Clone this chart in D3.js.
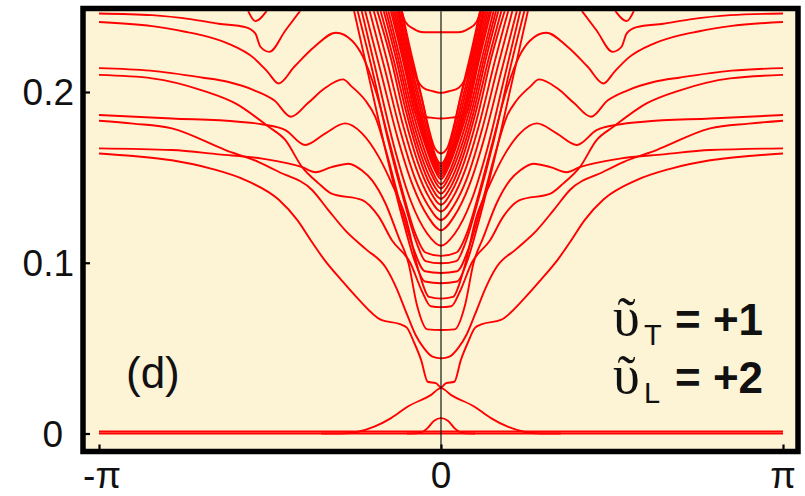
<!DOCTYPE html>
<html>
<meta charset="utf-8">
<style>
body { margin: 0; background: #fff; }
.band { fill: none; stroke: #ff0000; stroke-width: 1.9; stroke-linejoin: round; }
.tick-label { font-family: "Liberation Sans", Arial, sans-serif; font-size: 37px; fill: #111; }
.ticks line { stroke: #000; stroke-width: 2.2; }
</style>
<body>
<svg width="805" height="496"></svg>
<script src="https://cdn.jsdelivr.net/npm/d3@7/dist/d3.min.js"></script>
<script>

// k in units of pi, energy in model units; only k >= 0 is listed, the plot is mirrored
var xTicks = [-1, 0, 1];
var xTickLabels = ["-\u03c0", "0", "\u03c0"];
var yTicks = [0, 0.1, 0.2];
var yTickLabels = ["0", "0.1", "0.2"];

var zeroLines = [
  [[0, 0], [1, 0]],
  [[0, 0.0012], [1, 0.0012]]
];

var bumpCurves = [
  [[0, 0.009], [0.02, 0.0075], [0.04, 0.003], [0.065, 0.0003], [0.1, 0]],
  [[0, 0.0266], [0.03, 0.0225], [0.098, 0.0157], [0.146, 0.009], [0.195, 0.004], [0.243, 0.001], [0.29, 0], [0.35, 0]]
];

// dense continuum around k = 0
var bundleCurves = [
  [[0, 0.164], [0.018, 0.167], [0.035, 0.178], [0.06, 0.2], [0.09, 0.225], [0.117, 0.25]],
  [[0, 0.158], [0.015, 0.162], [0.03, 0.172], [0.055, 0.195], [0.088, 0.22], [0.12, 0.25]],
  [[0, 0.1565], [0.016, 0.161], [0.033, 0.171], [0.06, 0.194], [0.093, 0.22], [0.125, 0.25]],
  [[0, 0.155], [0.017, 0.16], [0.036, 0.17], [0.064, 0.193], [0.097, 0.22], [0.13, 0.25]],
  [[0, 0.1535], [0.018, 0.159], [0.039, 0.17], [0.068, 0.192], [0.101, 0.22], [0.135, 0.25]],
  [[0, 0.152], [0.019, 0.158], [0.042, 0.17], [0.072, 0.192], [0.105, 0.22], [0.14, 0.25]],
  [[0, 0.1505], [0.02, 0.157], [0.045, 0.17], [0.076, 0.192], [0.109, 0.22], [0.145, 0.25]],
  [[0, 0.149], [0.022, 0.156], [0.048, 0.17], [0.08, 0.191], [0.113, 0.22], [0.15, 0.25]],
  [[0, 0.146], [0.024, 0.153], [0.052, 0.168], [0.085, 0.19], [0.12, 0.22], [0.157, 0.25]],
  [[0, 0.1435], [0.026, 0.151], [0.056, 0.166], [0.09, 0.189], [0.126, 0.22], [0.164, 0.25]],
  [[0, 0.1405], [0.028, 0.148], [0.06, 0.164], [0.095, 0.188], [0.132, 0.22], [0.171, 0.25]],
  [[0, 0.1375], [0.03, 0.145], [0.064, 0.162], [0.1, 0.187], [0.14, 0.22], [0.18, 0.25]],
  [[0, 0.134], [0.032, 0.142], [0.068, 0.159], [0.106, 0.185], [0.147, 0.22], [0.19, 0.25]],
  [[0, 0.13], [0.034, 0.138], [0.072, 0.155], [0.113, 0.182], [0.156, 0.217], [0.2, 0.25]],
  [[0, 0.125], [0.036, 0.133], [0.077, 0.15], [0.12, 0.178], [0.165, 0.214], [0.212, 0.25]],
  [[0, 0.119], [0.038, 0.127], [0.082, 0.145], [0.128, 0.174], [0.175, 0.211], [0.225, 0.25]],
  [[0, 0.11], [0.04, 0.117], [0.088, 0.136], [0.137, 0.168], [0.185, 0.208], [0.235, 0.25]],
  [[0, 0.0997], [0.045, 0.101], [0.072, 0.112], [0.105, 0.134], [0.155, 0.172], [0.2, 0.212], [0.247, 0.25]],
  [[0, 0.088], [0.047, 0.089], [0.075, 0.1], [0.11, 0.124], [0.16, 0.164], [0.21, 0.208], [0.257, 0.25]]
];

// flat-bottomed levels sitting above the continuum edge
var capCurves = [
  [[0, 0.235], [0.05, 0.235], [0.08, 0.237], [0.104, 0.241], [0.119, 0.25]],
  [[0, 0.1995], [0.025, 0.2005], [0.053, 0.2027], [0.082, 0.213], [0.105, 0.2307], [0.12, 0.244], [0.125, 0.25]],
  [[0, 0.1845], [0.03, 0.185], [0.05, 0.1855], [0.075, 0.188], [0.095, 0.205], [0.12, 0.235]]
];

// subbands that flatten towards k = +-pi
var outerCurves = [
  [[0.41, 0.248], [0.455, 0.236], [0.502, 0.2235], [0.528, 0.2265], [0.543, 0.2343], [0.572, 0.238], [0.65, 0.24], [0.728, 0.2425], [0.845, 0.245], [1, 0.246]],
  [[0.508, 0.248], [0.543, 0.2415], [0.565, 0.248]],
  [[0, 0.104], [0.045, 0.106], [0.075, 0.117], [0.11, 0.14], [0.15, 0.17], [0.19, 0.2], [0.228, 0.2206], [0.26, 0.23], [0.307, 0.2347], [0.37, 0.2265], [0.429, 0.2148], [0.475, 0.205], [0.507, 0.2118], [0.546, 0.2197], [0.624, 0.2285], [0.7, 0.2333], [0.748, 0.2353], [0.845, 0.2386], [1, 0.241]],
  [[0, 0.094], [0.047, 0.095], [0.08, 0.108], [0.12, 0.135], [0.16, 0.165], [0.192, 0.1855], [0.221, 0.195], [0.26, 0.203], [0.287, 0.2074], [0.341, 0.202], [0.389, 0.1935], [0.4386, 0.1855], [0.487, 0.195], [0.546, 0.201], [0.624, 0.206], [0.7, 0.2085], [0.85, 0.2125], [1, 0.214]],
  [[0, 0.074], [0.03, 0.0745], [0.055, 0.083], [0.09, 0.1], [0.143, 0.113], [0.182, 0.127], [0.23, 0.1367], [0.32, 0.1405], [0.358, 0.1465], [0.406, 0.156], [0.455, 0.1718], [0.504, 0.1796], [0.601, 0.1933], [0.699, 0.201], [0.845, 0.208], [1, 0.21]],
  [[0, 0.079], [0.035, 0.08], [0.065, 0.095], [0.104, 0.127], [0.143, 0.146], [0.182, 0.162], [0.231, 0.1758], [0.28, 0.1816], [0.338, 0.1758], [0.397, 0.169], [0.455, 0.1777], [0.52, 0.181], [0.592, 0.1826], [0.787, 0.1845], [1, 0.1865]],
  [[0, 0.044], [0.025, 0.045], [0.05, 0.05], [0.075, 0.058], [0.1, 0.07], [0.13, 0.085], [0.163, 0.0976], [0.22, 0.108], [0.28, 0.119], [0.33, 0.131], [0.377, 0.1426], [0.475, 0.1533], [0.533, 0.159], [0.63, 0.166], [0.787, 0.1787], [0.9, 0.1815], [1, 0.1832]],
  [[0, 0.0606], [0.04, 0.061], [0.07, 0.075], [0.095, 0.0997], [0.124, 0.115], [0.163, 0.135], [0.202, 0.1484], [0.231, 0.154], [0.27, 0.158], [0.32, 0.156], [0.367, 0.153], [0.406, 0.156], [0.523, 0.161], [0.65, 0.1635], [0.787, 0.166], [1, 0.167]],
  [[0, 0.027], [0.015, 0.0295], [0.039, 0.0303], [0.058, 0.043], [0.078, 0.053], [0.1, 0.062], [0.12, 0.064], [0.175, 0.0665], [0.243, 0.079], [0.292, 0.09], [0.342, 0.102], [0.377, 0.112], [0.42, 0.125], [0.475, 0.137], [0.572, 0.1484], [0.67, 0.155], [0.787, 0.16], [0.9, 0.1625], [1, 0.164]]
];

var params = [["T", "= +1"], ["L", "= +2"]];

var svg = d3.select("svg");

var frame = { left: 83, top: 8.5, right: 798, bottom: 451.5 };

var x = d3.scaleLinear().domain([-1, 1]).range([99, 783]);
var y = d3.scaleLinear().domain([0, 0.2]).range([433.5, 92]);

svg.append("defs").append("clipPath").attr("id", "plot-clip")
  .append("rect")
    .attr("x", frame.left + 2.75)
    .attr("y", frame.top + 2.75)
    .attr("width", frame.right - frame.left - 5.5)
    .attr("height", frame.bottom - frame.top - 5.5);

svg.append("rect")
  .attr("x", frame.left)
  .attr("y", frame.top)
  .attr("width", frame.right - frame.left)
  .attr("height", frame.bottom - frame.top)
  .attr("fill", "#fdf4d6");

// mirror the k >= 0 half onto k <= 0
function mirrored(pts) {
  var flip = pts.map(function(p) { return [-p[0], p[1]]; }).reverse();
  if (pts[0][0] === 0) return [flip.slice(0, -1).concat(pts)];
  return [flip, pts];
}

var line = d3.line()
  .x(function(d) { return x(d[0]); })
  .y(function(d) { return y(d[1]); })
  .curve(d3.curveMonotoneX);

var allCurves = [].concat(zeroLines, bumpCurves, bundleCurves, capCurves, outerCurves);
var paths = [];
allCurves.forEach(function(c) { paths = paths.concat(mirrored(c)); });

svg.append("g")
    .attr("clip-path", "url(#plot-clip)")
  .selectAll("path")
  .data(paths)
  .enter().append("path")
    .attr("class", "band")
    .attr("d", line);

// k = 0 guide
svg.append("line")
  .attr("x1", x(0)).attr("x2", x(0))
  .attr("y1", frame.top + 2.75).attr("y2", frame.bottom - 2.75)
  .attr("stroke", "#000")
  .attr("stroke-width", 1.1);

// tick marks point inwards from the frame
svg.append("g")
    .attr("class", "ticks")
    .attr("transform", "translate(" + frame.left + ",0)")
    .call(d3.axisRight(y).tickValues(yTicks).tickSize(7).tickFormat(""))
  .select(".domain").remove();

svg.append("g")
    .attr("class", "ticks")
    .attr("transform", "translate(0," + frame.bottom + ")")
    .call(d3.axisTop(x).tickValues(xTicks).tickSize(7).tickFormat(""))
  .select(".domain").remove();

svg.append("rect")
  .attr("x", frame.left)
  .attr("y", frame.top)
  .attr("width", frame.right - frame.left)
  .attr("height", frame.bottom - frame.top)
  .attr("fill", "none")
  .attr("stroke", "#000")
  .attr("stroke-width", 5.5);

svg.selectAll(".ylab")
  .data(yTicks)
  .enter().append("text")
    .attr("class", "tick-label")
    .attr("text-anchor", "end")
    .attr("x", function(d) { return d === 0 ? 63 : 74; })
    .attr("y", function(d) { return y(d) + 13; })
    .text(function(d, i) { return yTickLabels[i]; });

svg.selectAll(".xlab")
  .data(xTicks)
  .enter().append("text")
    .attr("class", "tick-label")
    .attr("text-anchor", "middle")
    .attr("x", function(d) { return x(d) + (d < 0 ? 3 : 0); })
    .attr("y", 488)
    .text(function(d, i) { return xTickLabels[i]; });

// panel label and parameters
svg.append("text")
  .attr("x", 126).attr("y", 388)
  .attr("font-family", "Liberation Sans, Arial, sans-serif")
  .attr("font-size", 44)
  .attr("fill", "#111")
  .text("(d)");

params.forEach(function(p, i) {
  var base = 335 + i * 58;
  var t = svg.append("text")
    .attr("y", base)
    .attr("fill", "#111")
    .attr("font-family", "Liberation Sans, Arial, sans-serif");
  // upsilon with perispomeni, drawn as one glyph
  t.append("tspan")
    .attr("x", 613).attr("y", base)
    .attr("font-family", "Liberation Serif, DejaVu Serif, serif")
    .attr("font-size", 54)
    .text("\u1fe6");
  t.append("tspan")
    .attr("x", 644).attr("y", base + 10)
    .attr("font-size", 29)
    .text(p[0]);
  t.append("tspan")
    .attr("x", 675).attr("y", base)
    .attr("font-size", 44)
    .attr("font-weight", "bold")
    .text(p[1]);
});

</script>
</body>
</html>
